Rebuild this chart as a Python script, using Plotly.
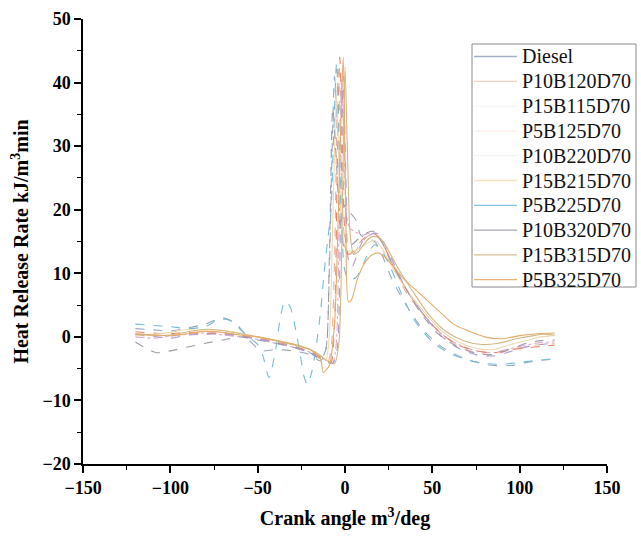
import plotly.graph_objects as go

names = ["Diesel", "P10B120D70", "P15B115D70", "P5B125D70", "P10B220D70",
         "P15B215D70", "P5B225D70", "P10B320D70", "P15B315D70", "P5B325D70"]
colors = ["#97a8bd", "#eab09b", "#dcaccb", "#ea8464", "#ad98cd",
          "#eed9ae", "#74bcd6", "#9a9aa8", "#d0b885", "#e5ab6a"]
dashes = ["dash", "dash", "dashdot", "dash", "dash",
          "solid", "dash", "dash", "solid", "solid"]
legend_alpha = [0.9, 0.6, 0.15, 0.15, 0.15, 0.8, 0.9, 0.9, 0.9, 0.9]

x_diesel = [-120,-110,-100,-90,-80,-70,-62,-55,-48,-40,-30,-20,-14,-11,-9,-7.5,-6,-4.5,-3,-1,1,3,6,9,13,17,21,27,35,45,55,65,75,85,95,105,112,120]
y_diesel = [1.3,1.1,0.9,1.4,2.0,3.0,2.0,-0.5,-2.2,-2.0,-2.2,-2.8,-3.8,-2,10,28,41,34,25,21,20,19.5,18.5,16,15.5,15,13,9,5,1,-1.5,-3,-4,-4.5,-4.5,-4,-3.7,-3.5]

x_p10b120 = [-120,-110,-100,-90,-80,-70,-60,-50,-40,-30,-20,-14,-10,-8,-6,-4,-2.5,-1,1,3,6,10,14,18,22,28,35,45,55,65,75,85,95,105,112,120]
y_p10b120 = [0.5,0.3,0.2,0.6,0.8,0.4,0.2,-0.3,-0.8,-1.5,-2.6,-3.5,-4.0,-2,12,42,30,18,13,12.5,13.5,15,16,16,14.5,11,7,3.5,0.5,-1.5,-2.5,-2.8,-2.0,-1.5,-1.2,-1.0]

x_p15b115 = [-120,-110,-100,-90,-80,-70,-60,-50,-40,-30,-20,-14,-10,-7,-5,-3.5,-2,-0.5,1,3,6,10,14,18,22,28,35,45,55,65,75,85,95,105,112,120]
y_p15b115 = [0.0,-0.2,0.1,0.4,0.6,0.3,0.0,-0.4,-1.0,-1.6,-2.4,-3.2,-3.8,-4,-1,15,40.5,30,19,17,16.5,16,16.3,16.2,14.5,11,7.5,3.5,0.5,-1.2,-2.2,-2.5,-1.8,-1.2,-0.9,-0.8]

x_p5b125 = [-120,-110,-100,-90,-80,-70,-60,-50,-40,-30,-20,-14,-10,-8,-6,-4.5,-3,-1.5,0,2,5,9,13,17,21,27,35,45,55,65,75,85,95,105,112,120]
y_p5b125 = [0.8,0.6,0.5,0.7,0.5,0.6,0.2,-0.2,-0.7,-1.4,-2.3,-3.2,-3.9,-4.0,2,25,44,30,16,13,13.5,15,16,16.2,15,11.5,7.5,3.5,0.5,-1.3,-2.2,-2.5,-2.0,-1.7,-1.5,-1.3]

x_p10b220 = [-120,-110,-100,-90,-80,-70,-60,-50,-40,-30,-20,-14,-10,-7,-4.5,-2.5,-1,0.5,2,4,7,10,14,18,22,28,35,45,55,65,75,85,95,105,112,120]
y_p10b220 = [0.3,0.1,-0.2,0.3,0.4,0.5,0.1,-0.3,-0.9,-1.6,-2.5,-3.3,-4.0,-4.2,-2,20,41,25,12,11,13,15,16,16.3,15,11.5,7.5,3.5,0.2,-1.8,-2.8,-3.0,-2.3,-1.5,-1.2,-1.0]

x_p15b215 = [-120,-110,-100,-90,-80,-70,-60,-50,-40,-30,-20,-14,-11,-9,-7,-5,-3.5,-2,0,2,5,9,13,17,21,27,35,45,55,65,75,85,95,105,112,120]
y_p15b215 = [0.2,0.4,0.7,1.2,0.8,1.0,0.6,0.0,-0.6,-1.2,-2.0,-2.9,-3.6,0,18,38,28,18,14,13.5,13.5,14,14.8,15.2,14,11,7.5,4,1,-0.8,-1.8,-2,-1.2,-0.5,0,0.2]

x_p5b225 = [-120,-110,-100,-90,-80,-72,-66,-60,-54,-50,-47,-43.5,-40,-37,-34.5,-31.5,-28.5,-25.5,-23.5,-21.5,-19,-16.5,-14,-12,-10,-8,-6.5,-4.8,-3.5,-2,-0.5,1,3,6,9,13,17,21,26,32,40,50,60,70,80,90,100,110,120]
y_p5b225 = [2.0,1.8,1.6,1.3,1.6,2.8,2.6,1.2,-0.3,-1.2,-3,-6.4,-2.5,3,5.6,4.8,1.5,-3,-6.2,-7.5,-5.5,-1.5,4,10,15,20,32,43.2,32,18,11,9.5,9,9.3,10.5,13,14.5,13.5,11,7,2.5,-0.8,-2.6,-3.6,-4.2,-4.3,-4.0,-3.7,-3.4]

x_p10b320 = [-120,-114,-108,-100,-90,-80,-70,-60,-50,-40,-30,-20,-14,-11,-9,-7,-5,-3,-1,1,4,8,12,16,20,26,34,44,54,64,74,84,94,104,112,120]
y_p10b320 = [-0.8,-1.8,-2.5,-2.2,-1.6,-1.0,-0.5,0.0,-0.5,-1.0,-1.6,-2.5,-3.5,-2,12,36,28,18,14.5,14,14.5,15.5,16.3,16.6,15.5,12,8,3.5,0.3,-1.5,-2.5,-2.8,-2.0,-1.0,-0.6,-0.5]

x_p15b315 = [-120,-110,-100,-90,-80,-70,-60,-50,-40,-30,-20,-14,-10,-6,-3.5,-1.5,0,1.5,3,5,8,12,16,20,24,30,38,48,58,68,78,88,98,108,114,120]
y_p15b315 = [0.4,0.2,0.3,0.8,1.2,1.0,0.5,0.0,-0.6,-1.2,-2.0,-3.0,-3.8,-4.2,-1,20,42.5,28,16,13,13.5,15,15.8,15.5,14,11,7.5,3.5,0.8,-0.6,-1.2,-1.0,-0.3,0.2,0.4,0.3]

x_p5b325 = [-120,-110,-100,-90,-80,-70,-60,-50,-40,-30,-20,-14,-12.4,-9,-6,-3,-1,0.5,2,4,7,11,15,19,23,28,34,40,48,56,62,70,80,90,100,110,120]
y_p5b325 = [0.5,0.3,0.2,0.5,0.9,0.7,0.3,0.0,-0.5,-1.1,-2.0,-3.5,-5.6,-4.5,2,28,44,18,5.5,6,9,11.5,12.8,13.2,12.5,11,9,7.5,5.5,3.5,2,1,0,-0.3,0.2,0.5,0.6]

xs = [x_diesel, x_p10b120, x_p15b115, x_p5b125, x_p10b220,
      x_p15b215, x_p5b225, x_p10b320, x_p15b315, x_p5b325]
ys = [y_diesel, y_p10b120, y_p15b115, y_p5b125, y_p10b220,
      y_p15b215, y_p5b225, y_p10b320, y_p15b315, y_p5b325]

x_ticks = [-150, -100, -50, 0, 50, 100, 150]
y_ticks = [-20, -10, 0, 10, 20, 30, 40, 50]


def lab(v):
    return "<b>" + str(v).replace("-", "\u2212") + "</b>"


def hex_rgba(h, a):
    h = h.lstrip("#")
    return "rgba(%d,%d,%d,%.2f)" % (int(h[0:2], 16), int(h[2:4], 16), int(h[4:6], 16), a)


fig = go.Figure()
for n, c, d, x, y in zip(names, colors, dashes, xs, ys):
    fig.add_trace(go.Scatter(
        x=x, y=y, name=n, mode="lines", showlegend=False,
        line=dict(color=c, width=1.1, dash=d, shape="spline", smoothing=0.7),
    ))

W, H = 641, 538
L, R, T, B = 83, 34, 19, 74
pw, ph = W - L - R, H - T - B


def px(xp):
    return (xp - L) / pw


def py(yp):
    return (H - B - yp) / ph


serif = "Liberation Serif"
fig.add_shape(type="rect", xref="paper", yref="paper",
              x0=px(472), x1=px(636), y0=py(287), y1=py(44),
              line=dict(color="#8a8a8a", width=1), fillcolor="white", layer="above")
row0, step = 56.5, 24.8
for i, (n, c) in enumerate(zip(names, colors)):
    yc = row0 + i * step
    fig.add_shape(type="line", xref="paper", yref="paper",
                  x0=px(474), x1=px(517), y0=py(yc), y1=py(yc),
                  line=dict(color=hex_rgba(c, legend_alpha[i]), width=1.3), layer="above")
    fig.add_annotation(xref="paper", yref="paper", x=px(520), y=py(yc),
                       xanchor="left", yanchor="middle", showarrow=False,
                       text=n, font=dict(family=serif, size=20, color="#111111"))

fig.update_layout(
    width=W, height=H,
    margin=dict(l=L, r=R, t=T, b=B),
    paper_bgcolor="white", plot_bgcolor="white",
    font=dict(family=serif, color="black"),
    showlegend=False,
)
fig.update_xaxes(
    range=[-150, 150], tickvals=x_ticks, ticktext=[lab(v) for v in x_ticks],
    showline=True, linecolor="black", linewidth=1.5, mirror=False, automargin=False,
    ticks="outside", ticklen=7, tickwidth=1.5, tickcolor="black",
    minor=dict(dtick=25, tick0=-150, ticks="outside", ticklen=4, tickwidth=1.2, tickcolor="black"),
    showgrid=False, zeroline=False,
    tickfont=dict(family=serif, size=18, color="black", weight=700),
    title=dict(text="<b>Crank angle m<sup>3</sup>/deg</b>", font=dict(family=serif, size=20), standoff=14),
)
fig.update_yaxes(
    range=[-20, 50], tickvals=y_ticks, ticktext=[lab(v) for v in y_ticks],
    showline=True, linecolor="black", linewidth=1.5, mirror=False, automargin=False,
    ticks="outside", ticklen=7, tickwidth=1.5, tickcolor="black",
    minor=dict(dtick=5, tick0=-20, ticks="outside", ticklen=4, tickwidth=1.2, tickcolor="black"),
    showgrid=False, zeroline=False,
    tickfont=dict(family=serif, size=18, color="black", weight=700),
    title=dict(text="<b>Heat Release Rate kJ/m<sup>3</sup>min</b>", font=dict(family=serif, size=20), standoff=8),
)

fig.write_html("out.html")
